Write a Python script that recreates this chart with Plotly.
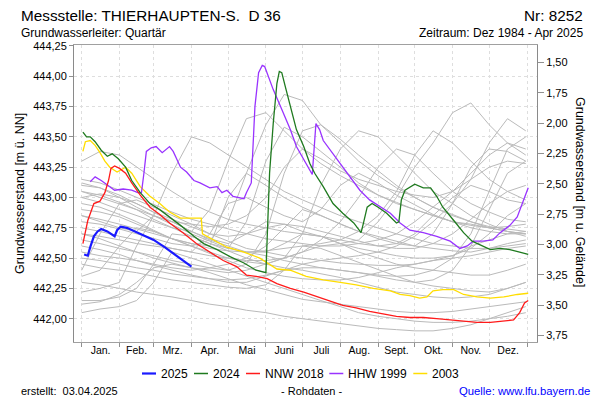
import plotly.graph_objects as go

# ---------------- data ----------------
month_starts = [0, 31, 59, 90, 120, 151, 181, 212, 243, 273, 304, 334, 365]
month_mids = [15.5, 45, 74.5, 105, 135.5, 166, 196.5, 227.5, 258, 288.5, 319, 349.5]
month_labels = ["Jan.", "Feb.", "Mrz.", "Apr.", "Mai", "Juni", "Juli", "Aug.", "Sept.", "Okt.", "Nov.", "Dez."]

left_ticks = [442.00, 442.25, 442.50, 442.75, 443.00, 443.25, 443.50, 443.75, 444.00, 444.25]
right_ticks = [1.50, 1.75, 2.00, 2.25, 2.50, 2.75, 3.00, 3.25, 3.50, 3.75]
ground_level = 445.613

# 2025
days_2025 = [2, 5, 7, 10, 13, 16, 21, 27, 29, 32, 37, 46, 51, 59, 68, 76, 84, 90]
vals_2025 = [442.53, 442.52, 442.59, 442.68, 442.72, 442.74, 442.72, 442.68, 442.73, 442.76,
             442.75, 442.71, 442.69, 442.65, 442.59, 442.53, 442.47, 442.43]

# 2024
days_2024 = [1, 4, 7, 11, 16, 21, 25, 30, 36, 41, 48, 56, 64, 72, 81, 92, 100, 111, 122, 133,
             143, 151, 152, 154, 157, 160, 162, 164, 167, 171, 176, 182, 187, 191, 198, 206,
             214, 223, 229, 231, 234, 238, 243, 250, 258, 260, 262, 265, 273, 280, 286, 291,
             296, 305, 313, 320, 327, 335, 343, 351, 359, 366]
vals_2024 = [443.54, 443.50, 443.50, 443.46, 443.39, 443.34, 443.36, 443.32, 443.25, 443.14,
             443.04, 442.95, 442.90, 442.84, 442.77, 442.68, 442.62, 442.57, 442.51, 442.46,
             442.40, 442.38, 442.65, 443.20, 443.61, 443.94, 444.04, 444.03, 443.91, 443.75,
             443.56, 443.42, 443.28, 443.20, 443.09, 442.95, 442.87, 442.79, 442.71, 442.79,
             442.92, 442.95, 442.92, 442.87, 442.79, 442.80, 442.98, 443.06, 443.11, 443.08,
             443.08, 443.01, 442.92, 442.81, 442.71, 442.64, 442.61, 442.57, 442.58, 442.57,
             442.55, 442.53]

# NNW 2018
days_nnw = [1, 3, 5, 10, 15, 19, 22, 24, 27, 31, 36, 41, 48, 56, 64, 72, 83, 94, 105, 116,
            127, 135, 143, 152, 160, 171, 182, 193, 204, 214, 225, 236, 247, 258, 269, 280,
            291, 302, 313, 324, 335, 346, 354, 359, 363, 366]
vals_nnw = [442.62, 442.71, 442.81, 442.95, 442.97, 443.04, 443.14, 443.24, 443.26, 443.24,
            443.20, 443.12, 443.02, 442.92, 442.86, 442.79, 442.71, 442.62, 442.55, 442.48,
            442.43, 442.36, 442.35, 442.33, 442.29, 442.25, 442.22, 442.18, 442.14, 442.11,
            442.09, 442.06, 442.04, 442.02, 442.01, 442.01, 442.00, 441.99, 441.98, 441.97,
            441.97, 441.98, 441.99, 442.05, 442.13, 442.15]

# HHW 1999
days_hhw = [7, 11, 16, 22, 27, 34, 41, 46, 49, 51, 53, 57, 61, 66, 72, 75, 81, 86, 92, 97,
            105, 111, 115, 119, 124, 133, 135, 139, 140, 142, 145, 148, 150, 153, 157, 163,
            171, 176, 184, 189, 192, 195, 198, 204, 212, 220, 228, 236, 245, 253, 261, 269,
            280, 291, 302, 310, 316, 321, 329, 337, 343, 351, 357, 361, 366]
vals_hhw = [443.13, 443.17, 443.14, 443.10, 443.06, 443.07, 443.06, 443.04, 443.04, 443.20,
            443.38, 443.41, 443.42, 443.37, 443.42, 443.38, 443.25, 443.21, 443.14, 443.12,
            443.08, 443.09, 443.04, 443.06, 443.01, 442.99, 443.04, 443.12, 443.34, 443.75,
            444.03, 444.09, 444.08, 444.00, 443.89, 443.75, 443.56, 443.42, 443.28, 443.19,
            443.61, 443.56, 443.47, 443.39, 443.28, 443.17, 443.06, 442.98, 442.92, 442.87,
            442.79, 442.73, 442.71, 442.68, 442.64, 442.58, 442.60, 442.64, 442.64, 442.65,
            442.71, 442.77, 442.84, 442.95, 443.08]

# 2003
days_2003 = [1, 3, 7, 11, 15, 19, 23, 29, 36, 41, 48, 56, 64, 72, 81, 90, 98, 99, 108, 119,
             133, 146, 160, 171, 184, 198, 212, 225, 239, 253, 261, 269, 277, 283, 288, 296,
             305, 313, 324, 335, 346, 357, 366]
vals_2003 = [443.38, 443.46, 443.47, 443.43, 443.37, 443.30, 443.25, 443.21, 443.25, 443.20,
             443.09, 443.01, 442.95, 442.88, 442.83, 442.83, 442.83, 442.70, 442.65, 442.59,
             442.55, 442.50, 442.41, 442.40, 442.35, 442.32, 442.30, 442.28, 442.25, 442.23,
             442.20, 442.19, 442.17, 442.18, 442.23, 442.24, 442.24, 442.20, 442.18, 442.17,
             442.18, 442.20, 442.21]

# other years (grey), semi-monthly readings
grey_days = [0, 15, 31, 45, 59, 74, 90, 105, 120, 135, 151, 166, 181, 196, 212, 227, 243,
             258, 273, 288, 304, 319, 334, 349, 364]
grey_01 = [443.10, 443.08, 443.02, 442.95, 442.88, 442.80, 442.72, 442.66, 442.62, 442.70, 442.80, 442.78, 442.72, 442.68, 442.62, 442.58, 442.55, 442.52, 442.50, 442.50, 442.52, 442.58, 442.70, 442.85, 442.95]
grey_02 = [443.05, 443.02, 442.96, 442.90, 442.82, 442.75, 442.68, 442.62, 442.58, 442.80, 443.30, 443.58, 443.50, 443.38, 443.25, 443.12, 443.02, 442.95, 442.90, 442.85, 442.80, 442.78, 442.75, 442.72, 442.70]
grey_03 = [442.22, 442.25, 442.30, 442.60, 442.85, 442.80, 442.72, 442.65, 442.60, 442.55, 442.55, 442.62, 442.70, 442.68, 442.62, 442.55, 442.50, 442.45, 442.42, 442.40, 442.38, 442.36, 442.36, 442.40, 442.45]
grey_04 = [442.05, 442.08, 442.10, 442.15, 442.30, 442.55, 442.50, 442.45, 442.40, 442.35, 442.30, 442.25, 442.20, 442.15, 442.10, 442.05, 442.02, 442.00, 441.98, 441.97, 441.97, 441.98, 442.00, 442.02, 442.05]
grey_05 = [442.95, 442.92, 442.86, 442.80, 442.73, 442.66, 442.60, 442.55, 442.50, 442.47, 442.45, 442.50, 442.70, 443.10, 443.40, 443.55, 443.50, 443.35, 443.20, 443.05, 442.95, 442.85, 442.78, 442.72, 442.68]
grey_06 = [442.85, 442.80, 442.75, 442.72, 442.85, 443.20, 443.50, 443.45, 443.35, 443.25, 443.15, 443.05, 442.98, 442.92, 442.85, 442.80, 442.75, 442.70, 442.66, 442.62, 442.60, 442.58, 442.58, 442.60, 442.62]
grey_07 = [442.70, 442.66, 442.60, 442.55, 442.50, 442.46, 442.42, 442.40, 442.38, 442.40, 442.45, 442.50, 442.55, 442.60, 442.62, 442.65, 442.80, 443.00, 443.25, 443.45, 443.70, 443.78, 443.60, 443.45, 443.35]
grey_08 = [442.60, 442.57, 442.53, 442.48, 442.44, 442.40, 442.36, 442.33, 442.30, 442.30, 442.35, 442.40, 442.45, 442.48, 442.50, 442.52, 442.55, 442.60, 442.68, 442.80, 442.95, 443.15, 443.45, 443.65, 443.55]
grey_09 = [442.80, 442.78, 442.74, 442.70, 442.66, 442.62, 442.60, 442.65, 442.80, 443.20, 443.60, 443.85, 443.80, 443.60, 443.45, 443.30, 443.18, 443.08, 443.00, 442.92, 442.86, 442.80, 442.75, 442.72, 442.70]
grey_10 = [443.00, 442.96, 442.90, 442.85, 442.80, 442.75, 442.72, 442.90, 443.30, 443.65, 443.70, 443.55, 443.40, 443.28, 443.18, 443.10, 443.02, 442.96, 442.90, 442.85, 442.80, 442.77, 442.75, 442.76, 442.78]
grey_11 = [442.30, 442.28, 442.25, 442.22, 442.20, 442.18, 442.15, 442.12, 442.10, 442.07, 442.05, 442.02, 442.00, 441.98, 441.96, 441.94, 441.92, 441.91, 441.90, 441.90, 441.92, 441.95, 442.00, 442.05, 442.10]
grey_12 = [442.40, 442.70, 442.95, 442.98, 442.92, 442.85, 442.78, 442.70, 442.64, 442.58, 442.55, 442.52, 442.50, 442.48, 442.46, 442.45, 442.44, 442.44, 442.45, 442.48, 442.52, 442.60, 442.65, 442.70, 442.72]
grey_13 = [442.75, 442.72, 442.68, 442.65, 442.62, 442.58, 442.55, 442.52, 442.50, 442.48, 442.48, 442.50, 442.55, 442.65, 442.80, 443.00, 443.25, 443.40, 443.35, 443.20, 443.05, 442.95, 442.88, 442.82, 442.80]
grey_14 = [443.12, 443.08, 443.00, 442.92, 442.85, 442.78, 442.70, 442.64, 442.58, 442.55, 442.52, 442.48, 442.45, 442.42, 442.40, 442.38, 442.35, 442.32, 442.30, 442.32, 442.40, 442.60, 442.90, 443.20, 443.30]
grey_15 = [442.55, 442.52, 442.50, 442.48, 442.45, 442.42, 442.40, 442.42, 442.45, 442.50, 442.60, 442.75, 442.90, 442.85, 442.78, 442.72, 442.66, 442.62, 442.60, 442.70, 442.95, 443.25, 443.40, 443.38, 443.30]
grey_16 = [442.15, 442.15, 442.18, 442.25, 442.45, 442.70, 442.68, 442.62, 442.56, 442.50, 442.45, 442.42, 442.40, 442.37, 442.34, 442.30, 442.26, 442.22, 442.20, 442.18, 442.17, 442.18, 442.20, 442.25, 442.30]
grey_17 = [443.00, 443.03, 443.00, 442.95, 442.88, 442.82, 442.76, 442.70, 442.68, 442.70, 442.75, 442.78, 442.76, 442.72, 442.68, 442.64, 442.60, 442.62, 442.70, 442.85, 443.00, 443.10, 443.05, 442.98, 442.95]
grey_18 = [442.90, 442.88, 442.84, 442.78, 442.72, 442.66, 442.62, 442.60, 443.00, 443.20, 443.10, 443.00, 442.92, 442.85, 442.78, 442.72, 442.68, 442.64, 442.60, 442.58, 442.56, 442.55, 442.58, 442.62, 442.65]
grey_19 = [442.45, 442.42, 442.40, 442.38, 442.35, 442.32, 442.30, 442.28, 442.26, 442.25, 442.28, 442.40, 442.60, 442.58, 442.52, 442.46, 442.40, 442.35, 442.30, 442.27, 442.25, 442.23, 442.22, 442.25, 442.30]
grey_20 = [442.65, 442.62, 442.58, 442.55, 442.52, 442.48, 442.45, 442.42, 442.40, 442.45, 442.70, 443.20, 443.55, 443.60, 443.48, 443.35, 443.22, 443.10, 443.00, 442.92, 442.85, 442.80, 442.76, 442.74, 442.72]
grey_21 = [442.85, 442.82, 442.78, 442.74, 442.70, 442.66, 442.62, 442.58, 442.56, 442.55, 442.56, 442.58, 442.60, 442.62, 442.65, 442.72, 442.85, 443.05, 443.35, 443.55, 443.45, 443.30, 443.15, 443.05, 442.98]
grey_22 = [443.15, 443.12, 443.06, 443.00, 442.94, 442.88, 442.82, 442.78, 442.74, 442.70, 442.66, 442.64, 442.62, 442.60, 442.60, 442.62, 442.65, 442.70, 442.80, 442.92, 443.05, 443.20, 443.35, 443.45, 443.40]
grey_23 = [442.12, 442.14, 442.20, 442.30, 442.42, 442.45, 442.42, 442.38, 442.33, 442.28, 442.24, 442.20, 442.16, 442.14, 442.12, 442.10, 442.08, 442.06, 442.05, 442.05, 442.06, 442.08, 442.10, 442.12, 442.14]
grey_24 = [442.70, 442.68, 442.65, 442.62, 442.60, 442.58, 442.55, 442.70, 442.95, 443.00, 442.92, 442.85, 442.80, 442.90, 443.10, 443.20, 443.12, 443.02, 442.94, 442.86, 442.80, 442.75, 442.72, 442.70, 442.70]
grey_25 = [443.05, 443.00, 442.95, 442.90, 442.85, 442.80, 442.78, 442.76, 442.78, 442.85, 443.00, 443.25, 443.40, 443.32, 443.22, 443.15, 443.10, 443.05, 443.02, 443.00, 443.05, 443.15, 443.25, 443.30, 443.28]
grey_26 = [442.35, 442.40, 442.60, 442.75, 442.72, 442.66, 442.60, 442.54, 442.48, 442.42, 442.38, 442.35, 442.33, 442.32, 442.32, 442.34, 442.38, 442.42, 442.45, 442.48, 442.50, 442.52, 442.55, 442.58, 442.60]
grey_27 = [443.30, 443.38, 443.35, 443.25, 443.15, 443.05, 442.95, 442.88, 442.82, 442.78, 442.75, 442.72, 442.70, 442.68, 442.65, 442.62, 442.60, 442.58, 442.58, 442.62, 442.70, 442.82, 442.95, 443.05, 443.10]
grey_28 = [442.50, 442.48, 442.45, 442.42, 442.40, 442.37, 442.35, 442.33, 442.32, 442.33, 442.36, 442.40, 442.42, 442.42, 442.40, 442.38, 442.36, 442.35, 442.36, 442.40, 442.50, 442.70, 443.05, 443.40, 443.50]

grey_series = [grey_01, grey_02, grey_03, grey_04, grey_05, grey_06, grey_07, grey_08, grey_09,
               grey_10, grey_11, grey_12, grey_13, grey_14, grey_15, grey_16, grey_17, grey_18,
               grey_19, grey_20, grey_21, grey_22, grey_23, grey_24, grey_25, grey_26, grey_27,
               grey_28]

legend_names = ["2025", "2024", "NNW 2018", "HHW 1999", "2003"]

# ---------------- figure ----------------
FONT = "Liberation Sans, Arial, sans-serif"
X_RANGE = [-6.3, 373.2]
Y_RANGE = [441.808, 444.258]
PLOT_L, PLOT_W, PLOT_B, PLOT_H = 74, 463, 342, 297


def xp(px):
    return (px - PLOT_L) / PLOT_W


def yp(py):
    return (PLOT_B - py) / PLOT_H


fig = go.Figure()

for g in grey_series:
    fig.add_trace(go.Scatter(x=grey_days, y=g, mode="lines",
                             line=dict(color="#bababa", width=1),
                             showlegend=False, hoverinfo="skip"))

styles = {
    "2003": ("#ffdd00", 1.3),
    "HHW 1999": ("#9933ff", 1.3),
    "NNW 2018": ("#ff1a1a", 1.3),
    "2024": ("#1f7a1f", 1.3),
    "2025": ("#1a1aff", 2.2),
}
series = [
    ("2003", days_2003, vals_2003),
    ("HHW 1999", days_hhw, vals_hhw),
    ("NNW 2018", days_nnw, vals_nnw),
    ("2024", days_2024, vals_2024),
    ("2025", days_2025, vals_2025),
]
for name, d, v in series:
    c, w = styles[name]
    fig.add_trace(go.Scatter(x=d, y=v, mode="lines", name=name,
                             line=dict(color=c, width=w), showlegend=False))

# helper traces so the label axes are drawn
fig.add_trace(go.Scatter(x=month_mids, y=[None] * len(month_mids), xaxis="x2", yaxis="y",
                         showlegend=False, hoverinfo="skip"))
fig.add_trace(go.Scatter(x=[0], y=[None], xaxis="x", yaxis="y2",
                         showlegend=False, hoverinfo="skip"))

tickfont = dict(family=FONT, size=11, color="#000")

fig.update_layout(
    width=600, height=400,
    margin=dict(l=PLOT_L, r=600 - PLOT_L - PLOT_W, t=PLOT_B - PLOT_H, b=400 - PLOT_B),
    paper_bgcolor="white", plot_bgcolor="white",
    separators=",.",
    showlegend=False,
    font=dict(family=FONT, color="#000"),
    xaxis=dict(range=X_RANGE, tickmode="array", tickvals=month_starts,
               ticktext=[""] * len(month_starts), ticks="outside", ticklen=4,
               tickcolor="#909090", showline=True, mirror=True, linecolor="#a0a0a0",
               showgrid=True, gridcolor="#dedede", griddash="3px,3px", zeroline=False),
    xaxis2=dict(range=X_RANGE, overlaying="x", anchor="y", side="bottom",
                tickmode="array", tickvals=month_mids, ticktext=month_labels,
                ticks="", showgrid=False, showline=False, zeroline=False,
                tickfont=dict(family=FONT, size=10.5, color="#000")),
    yaxis=dict(range=Y_RANGE, tickmode="array", tickvals=left_ticks, tickformat=".2f",
               ticks="outside", ticklen=4, tickcolor="#909090", showline=True, mirror=True,
               linecolor="#8a8a8a", showgrid=True, gridcolor="#dedede", griddash="3px,3px",
               zeroline=False, tickfont=tickfont),
    yaxis2=dict(range=[ground_level - Y_RANGE[0], ground_level - Y_RANGE[1]],
                overlaying="y", anchor="x", side="right", tickmode="array",
                tickvals=right_ticks, tickformat=".2f", ticks="outside", ticklen=6,
                tickcolor="#909090", showline=False, showgrid=False, zeroline=False,
                tickfont=tickfont),
)

# legend row (swatch + label), laid out left to right
legend_y = yp(373.5)
legend_line_starts = [142, 194, 246, 329.3, 413.3]
for name, x0 in zip(legend_names, legend_line_starts):
    c, w = styles[name]
    fig.add_shape(type="line", xref="paper", yref="paper", x0=xp(x0), x1=xp(x0 + 14),
                  y0=legend_y, y1=legend_y,
                  line=dict(color=c, width=2.2 if name == "2025" else 1.5))
    fig.add_annotation(text=name, x=xp(x0 + 17), y=legend_y, xref="paper", yref="paper",
                       xanchor="left", yanchor="middle", showarrow=False,
                       font=dict(family=FONT, size=12, color="#000"))

annots = [
    dict(text="Messstelle: THIERHAUPTEN-S.\u00a0\u00a0D 36", x=xp(19), y=yp(15), xanchor="left",
         size=15.3),
    dict(text="Nr: 8252", x=xp(585), y=yp(15), xanchor="right", size=15.3),
    dict(text="Grundwasserleiter: Quartär", x=xp(19), y=yp(33), xanchor="left", size=12),
    dict(text="Zeitraum: Dez 1984 - Apr 2025", x=xp(585), y=yp(33), xanchor="right", size=12),
    dict(text="erstellt:\u00a0\u00a003.04.2025", x=xp(19), y=yp(391), xanchor="left", size=11),
    dict(text="- Rohdaten -", x=xp(311), y=yp(391), xanchor="center", size=11),
    dict(text="Quelle: www.lfu.bayern.de", x=xp(592), y=yp(391), xanchor="right", size=11.3,
         color="#0000ff"),
]
for a in annots:
    fig.add_annotation(text=a["text"], x=a["x"], y=a["y"], xref="paper", yref="paper",
                       xanchor=a["xanchor"], yanchor="middle", showarrow=False,
                       font=dict(family=FONT, size=a["size"], color=a.get("color", "#000")))

fig.add_annotation(text="Grundwasserstand [m ü. NN]", x=xp(20), y=yp(194), xref="paper",
                   yref="paper", textangle=-90, showarrow=False, xanchor="center",
                   yanchor="middle", font=dict(family=FONT, size=12.5, color="#000"))
fig.add_annotation(text="Grundwasserstand [m u. Gelände]", x=xp(580), y=yp(192), xref="paper",
                   yref="paper", textangle=90, showarrow=False, xanchor="center",
                   yanchor="middle", font=dict(family=FONT, size=12.5, color="#000"))

fig.write_html("out.html", config={"displayModeBar": False},
               post_script="document.body.style.margin='0px';")
